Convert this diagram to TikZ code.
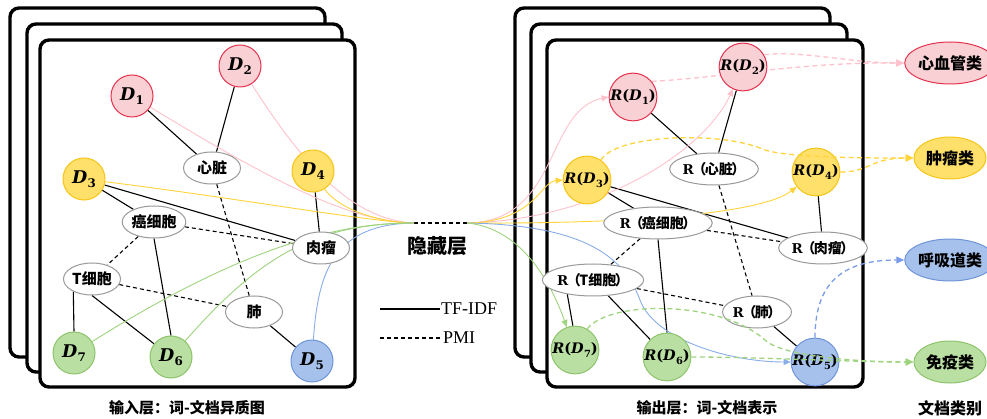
\documentclass[tikz,border=0pt]{standalone}
\usepackage{fontspec}
\usetikzlibrary{shapes.geometric,arrows.meta}
\newfontfamily\cjk{Noto Sans CJK SC}
\newfontfamily\tms{Liberation Serif}
\newfontfamily\dvs{DejaVu Serif}
\definecolor{pinkF}{HTML}{F9D0D4}
\definecolor{pinkD}{HTML}{E5334F}
\definecolor{pinkL}{HTML}{FFC2CC}
\definecolor{yelF}{HTML}{FFE06A}
\definecolor{yelD}{HTML}{F5C518}
\definecolor{yelL}{HTML}{FFD43A}
\definecolor{grnF}{HTML}{BADFA2}
\definecolor{grnD}{HTML}{8DC46C}
\definecolor{grnL}{HTML}{9ED47E}
\definecolor{bluF}{HTML}{A6C1EB}
\definecolor{bluD}{HTML}{6F95D8}
\definecolor{bluL}{HTML}{88ADE8}
\pgfdeclarelayer{frames}
\pgfdeclarelayer{bg}
\pgfsetlayers{frames,bg,main}
\newcommand\rtxt[1]{{\dvs\bfseries\fontsize{13.5}{13.5}\selectfont R}\hspace{-1.5pt}（\hspace{-1.5pt}#1\hspace{-1.5pt}）}
\newcommand\dsub[2]{{\dvs\bfseries\itshape #1}\kern0.3pt\raisebox{-0.25em}{\dvs\bfseries\scalebox{0.68}{#2}}}
\newcommand\dlab[1]{\dsub{D}{#1}}
\newcommand\rlab[1]{{\dvs\bfseries\itshape R}{\dvs\bfseries (}\dsub{D}{#1}{\dvs\bfseries )}}
\begin{document}
\begin{tikzpicture}[x=1pt,y=-1pt,
  frame/.style={draw=black,line width=3.4pt,fill=white,rounded corners=9pt},
  doc/.style={circle,minimum size=42pt,inner sep=0pt,line width=1pt,font=\fontsize{17.5}{17.5}\selectfont},
  rdoc/.style={font=\fontsize{14.5}{14.5}\selectfont},
  pinkdoc/.style={doc,fill=pinkF,draw=pinkD},
  yeldoc/.style={doc,fill=yelF,draw=yelD},
  grndoc/.style={doc,fill=grnF,draw=grnD},
  bludoc/.style={doc,fill=bluF,draw=bluD},
  word/.style={ellipse,draw=black!40,line width=1pt,fill=white,minimum width=57pt,minimum height=32pt,inner sep=0pt,font=\cjk\bfseries\fontsize{15}{15}\selectfont},
  rword/.style={font=\cjk\bfseries\fontsize{14}{14}\selectfont},
  cls/.style={ellipse,minimum width=72pt,minimum height=42pt,inner sep=0pt,line width=1pt,font=\cjk\bfseries\fontsize{16}{16}\selectfont},
  tfidf/.style={draw=black,line width=1.1pt},
  pmi/.style={draw=black,line width=1.1pt,dash pattern=on 4pt off 3pt},
  flow/.style={line width=0.9pt},
  tip/.style={-{Triangle[length=7pt,width=6pt]}},
  outd/.style={line width=1.3pt,dash pattern=on 5pt off 3.5pt,-{Triangle[length=8pt,width=7pt]}},
  captext/.style={font=\cjk\bfseries\fontsize{15}{15}\selectfont}
]
\useasboundingbox (0,0) rectangle (987,419);

\begin{pgfonlayer}{frames}
\draw[frame] (10,8) rectangle (325,357);
\draw[frame] (27,24) rectangle (342,372);
\draw[frame] (40,40) rectangle (355,387);
\draw[frame] (515,8) rectangle (830,357);
\draw[frame] (531,24) rectangle (847,372);
\draw[frame] (547,40) rectangle (863,387);
\end{pgfonlayer}

% left nodes
\node[pinkdoc] (D1) at (132,96) {\dlab{1}};
\node[pinkdoc] (D2) at (240,66) {\dlab{2}};
\node[yeldoc] (D3) at (84,179) {\dlab{3}};
\node[yeldoc] (D4) at (313,171) {\dlab{4}};
\node[bludoc] (D5) at (312,361) {\dlab{5}};
\node[grndoc] (D6) at (171,357) {\dlab{6}};
\node[grndoc] (D7) at (74,353) {\dlab{7}};
\node[word] (W1) at (212,168) {心脏};
\node[word] (W2) at (154,222) {癌细胞};
\node[word] (W3) at (321,248) {肉瘤};
\node[word] (W4) at (92,279) {T细胞};
\node[word] (W5) at (254,312) {肺};

% right nodes
\node[pinkdoc,rdoc] (R1) at (633,97) {\rlab{1}};
\node[pinkdoc,rdoc] (R2) at (743,67) {\rlab{2}};
\node[yeldoc,rdoc] (R3) at (587,180) {\rlab{3}};
\node[yeldoc,rdoc] (R4) at (816,172) {\rlab{4}};
\node[bludoc,rdoc] (R5) at (815,362) {\rlab{5}};
\node[grndoc,rdoc] (R6) at (667,357) {\rlab{6}};
\node[grndoc,rdoc] (R7) at (575,350) {\rlab{7}};
\node[word,rword] (V1) at (714,169) {\rtxt{心脏}};
\node[word,rword,minimum width=72pt] (V2) at (658,223) {\rtxt{癌细胞}};
\node[word,rword,minimum width=58pt] (V3) at (823,248) {\rtxt{肉瘤}};
\node[word,rword,minimum width=66pt] (V4) at (593,280) {\rtxt{T细胞}};
\node[word,rword,minimum width=58pt] (V5) at (757,312) {\rtxt{肺}};

% classes
\node[cls,fill=pinkF,draw=pinkD] (C1) at (950,63) {心血管类};
\node[cls,fill=yelF,draw=yelD] (C2) at (950,158) {肿瘤类};
\node[cls,fill=bluF,draw=bluD] (C3) at (950,260) {呼吸道类};
\node[cls,fill=grnF,draw=grnD] (C4) at (950,362) {免疫类};

% hidden layer
\coordinate (hL) at (414,223);
\coordinate (hR) at (467,223);
\node[font=\cjk\bfseries\fontsize{20}{20}\selectfont] (hid) at (437,246) {隐藏层};

% legend
\node[font=\tms\fontsize{18}{18}\selectfont,anchor=west,inner sep=1pt] (lg1) at (440,309) {TF-IDF};
\node[font=\tms\fontsize{18}{18}\selectfont,anchor=west,inner sep=1pt] (lg2) at (442,338) {PMI};
\coordinate (lg1s) at (380,309);
\coordinate (lg2s) at (380,338);
\draw[tfidf] (lg1s) -- (lg1.west);
\draw[pmi] (lg2s) -- (lg2.west);

% captions
\node[captext] (cap1) at (187,408) {输入层：词-文档异质图};
\node[captext] (cap2) at (707,408) {输出层：词-文档表示};
\node[captext,font=\cjk\bfseries\fontsize{16}{16}\selectfont] (cap3) at (950,408) {文档类别};

\begin{pgfonlayer}{bg}
% left edges
\draw[tfidf] (D1) -- (W1);
\draw[tfidf] (D2) -- (W1);
\draw[tfidf] (D3) -- (W2);
\draw[tfidf] (D3) -- (W3);
\draw[tfidf] (D4) -- (W3);
\draw[tfidf] (W2.south) -- (D6.north);
\draw[tfidf] (W4.214) -- (D7.north);
\draw[tfidf] (W4.south) -- (D6);
\draw[tfidf] (W5) -- (D5);
\draw[pmi] (W1) -- (W5);
\draw[pmi] (W2) -- (W3);
\draw[pmi] (W2) -- (W4);
\draw[pmi] (W4) -- (W5);
% right edges
\draw[tfidf] (R1) -- (V1);
\draw[tfidf] (R2) -- (V1);
\draw[tfidf] (R3) -- (V2);
\draw[tfidf] (R3) -- (V3);
\draw[tfidf] (R4) -- (V3);
\draw[tfidf] (V2.south) -- (R6.north);
\draw[tfidf] (V4.209) -- (R7.95);
\draw[tfidf] (V4) -- (R6);
\draw[tfidf] (V5) -- (R5);
\draw[pmi] (V1) -- (V5);
\draw[pmi] (V2) -- (V3);
\draw[pmi] (V2) -- (V4);
\draw[pmi] (V4) -- (V5);
% hidden dashed
\draw[pmi] (hL) -- (hR);
% left flows
\draw[flow,pinkL] (D1) .. controls (270,180) and (350,222) .. (hL);
\draw[flow,pinkL] (D2) .. controls (300,160) and (350,220) .. (hL);
\draw[flow,yelL] (D3) .. controls (250,200) and (370,222) .. (hL);
\draw[flow,yelL] (D4) .. controls (335,205) and (370,222) .. (hL);
\draw[flow,bluL] (D5) .. controls (318,270) and (335,224) .. (hL);
\draw[flow,grnL] (D6) .. controls (265,250) and (320,224) .. (hL);
\draw[flow,grnL] (D7) .. controls (230,255) and (330,222) .. (hL);
% right flows
\draw[flow,pinkL,tip] (hR) .. controls (560,222) and (545,110) .. (R1.west);
\draw[flow,pinkL,tip] (hR) .. controls (600,220) and (705,150) .. (R2);
\draw[flow,yelL,tip] (hR) .. controls (535,222) and (540,182) .. (R3.west);
\draw[flow,yelL,tip] (hR) .. controls (620,224) and (760,215) .. (R4);
\draw[flow,bluL,tip] (hR) .. controls (590,225) and (625,260) .. (640,300) .. controls (655,340) and (730,362) .. (R5.west);
\draw[flow,grnL,tip] (hR) .. controls (520,228) and (550,280) .. (R7);
% output dashed behind R2
\draw[outd,pinkL] (R1.40) .. controls (720,78) and (800,62) .. (C1.west);
\end{pgfonlayer}

% output dashed on top
\draw[outd,pinkL] (R2.30) .. controls (800,50) and (850,63) .. (C1.west);
\draw[outd,yelL] (R3.55) .. controls (615,135) and (720,130) .. (765,150) .. controls (790,158) and (870,158) .. (C2.west);
\draw[outd,yelL] (R4.east) .. controls (870,172) and (870,158) .. (C2.west);
\draw[outd,bluL!90!blue] (R5.north) .. controls (815,285) and (840,260) .. (C3.west);
\draw[outd,grnL] (R6.east) .. controls (760,357) and (850,362) .. (C4.west);
\draw[outd,grnL] (R7.60) .. controls (610,300) and (720,300) .. (765,340) .. controls (780,355) and (850,362) .. (C4.west);
\end{tikzpicture}
\end{document}
